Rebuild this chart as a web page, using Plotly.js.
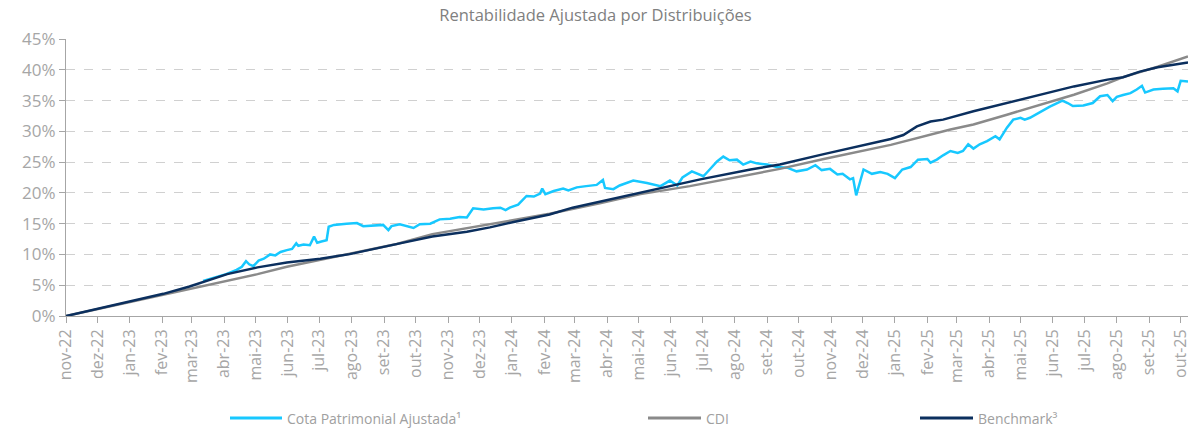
<!DOCTYPE html>
<html>
<head>
<meta charset="utf-8">
<script src="https://cdn.plot.ly/plotly-3.0.1.min.js"></script>
<style>html,body{margin:0;padding:0;background:#fff;}#chart{width:1191px;height:430px;}</style>
</head>
<body>
<div id="chart"></div>
<script>
// ---- Data ----
const cotaDates = ["2023-03-12","2023-03-25","2023-04-03","2023-04-13","2023-04-18","2023-04-22","2023-04-25","2023-04-29","2023-05-04","2023-05-09","2023-05-15","2023-05-20","2023-05-25","2023-05-31","2023-06-05","2023-06-09","2023-06-11","2023-06-16","2023-06-22","2023-06-26","2023-06-29","2023-07-03","2023-07-08","2023-07-10","2023-07-15","2023-07-27","2023-08-06","2023-08-12","2023-08-25","2023-08-31","2023-09-05","2023-09-08","2023-09-16","2023-09-29","2023-10-05","2023-10-15","2023-10-24","2023-11-03","2023-11-12","2023-11-19","2023-11-25","2023-12-05","2023-12-14","2023-12-21","2023-12-26","2023-12-30","2024-01-07","2024-01-15","2024-01-22","2024-01-28","2024-01-30","2024-02-02","2024-02-10","2024-02-19","2024-02-24","2024-03-03","2024-03-12","2024-03-22","2024-03-28","2024-03-30","2024-04-07","2024-04-13","2024-04-26","2024-05-03","2024-05-09","2024-05-22","2024-05-31","2024-06-07","2024-06-12","2024-06-21","2024-06-29","2024-07-02","2024-07-08","2024-07-15","2024-07-21","2024-07-27","2024-08-03","2024-08-09","2024-08-16","2024-08-22","2024-09-01","2024-09-10","2024-09-20","2024-09-29","2024-10-09","2024-10-17","2024-10-23","2024-10-31","2024-11-07","2024-11-12","2024-11-19","2024-11-22","2024-11-25","2024-11-29","2024-12-02","2024-12-10","2024-12-18","2024-12-25","2025-01-01","2025-01-08","2025-01-16","2025-01-23","2025-02-01","2025-02-04","2025-02-10","2025-02-16","2025-02-23","2025-03-02","2025-03-07","2025-03-12","2025-03-17","2025-03-23","2025-03-30","2025-04-07","2025-04-11","2025-04-18","2025-04-24","2025-05-01","2025-05-05","2025-05-10","2025-05-17","2025-05-23","2025-05-29","2025-06-05","2025-06-10","2025-06-15","2025-06-20","2025-06-30","2025-07-09","2025-07-16","2025-07-23","2025-07-28","2025-08-01","2025-08-07","2025-08-14","2025-08-20","2025-08-25","2025-08-28","2025-09-05","2025-09-14","2025-09-24","2025-09-28","2025-10-01","2025-10-08"];
const cotaValues = [5.7,6.35,6.8,7.5,8.0,8.9,8.4,8.1,9.0,9.3,10.0,9.85,10.4,10.7,10.9,11.8,11.4,11.6,11.5,12.9,11.9,12.1,12.3,14.5,14.8,15.0,15.1,14.6,14.7,14.8,13.95,14.6,14.9,14.3,14.9,15.0,15.7,15.8,16.1,16.0,17.5,17.3,17.5,17.6,17.2,17.6,18.1,19.5,19.4,19.9,20.7,19.8,20.3,20.7,20.4,20.9,21.1,21.3,22.1,20.8,20.6,21.2,22.0,21.8,21.6,21.1,22.0,21.2,22.5,23.5,23.0,22.7,23.8,25.1,25.9,25.3,25.4,24.6,25.1,24.8,24.6,24.2,24.1,23.5,23.8,24.5,23.7,23.9,23.0,23.1,22.2,22.4,19.6,22.2,23.8,23.1,23.4,23.1,22.4,23.8,24.2,25.4,25.5,24.9,25.4,26.1,26.8,26.5,26.8,27.9,27.2,27.9,28.4,29.2,28.7,30.6,31.9,32.2,31.9,32.2,32.9,33.4,34.0,34.6,35.0,34.6,34.1,34.2,34.6,35.7,35.9,34.9,35.6,35.9,36.2,36.8,37.4,36.3,36.8,36.9,37.0,36.5,38.2,38.1];

const cdiDates = ["2022-11-01","2022-12-03","2023-01-04","2023-02-02","2023-02-27","2023-04-04","2023-05-03","2023-05-31","2023-07-02","2023-07-30","2023-09-13","2023-10-17","2023-12-11","2024-02-06","2024-03-25","2024-05-03","2024-06-19","2024-08-22","2024-09-13","2024-10-25","2024-12-28","2025-02-23","2025-03-17","2025-04-18","2025-05-20","2025-06-21","2025-07-23","2025-08-07","2025-09-09","2025-10-08"];
const cdiValues = [0,1.2,2.4,3.4,4.4,5.75,6.8,8.0,9.1,10.05,11.7,13.3,14.9,16.6,18.3,19.8,21.1,23.1,23.9,25.5,27.8,30.3,31.1,32.7,34.3,35.95,37.8,38.8,40.5,42.15];

const benchDates = ["2022-11-01","2022-12-03","2023-01-04","2023-02-02","2023-02-27","2023-04-04","2023-05-03","2023-05-31","2023-07-02","2023-07-30","2023-09-16","2023-10-17","2023-11-19","2023-12-11","2024-01-06","2024-02-06","2024-02-28","2024-03-25","2024-05-03","2024-06-03","2024-06-29","2024-08-16","2024-09-13","2024-10-25","2024-12-06","2024-12-28","2025-01-09","2025-01-22","2025-02-04","2025-02-16","2025-03-17","2025-04-18","2025-05-20","2025-06-21","2025-07-23","2025-08-07","2025-08-23","2025-09-09","2025-10-08"];
const benchValues = [0,1.2,2.5,3.6,4.8,6.8,7.9,8.7,9.3,10.05,11.8,12.9,13.7,14.4,15.4,16.5,17.6,18.6,20.1,21.3,22.2,23.8,24.6,26.3,27.9,28.75,29.4,30.8,31.6,31.9,33.25,34.6,35.95,37.3,38.4,38.8,39.7,40.4,41.2];

const seriesNames = ["Cota Patrimonial Ajustada¹", "CDI", "Benchmark³"];
const seriesColors = ["#17C8FF", "#8A8A8A", "#0B2F5E"];

const monthTickVals = ["2022-11-01","2022-12-01","2023-01-01","2023-02-01","2023-03-01","2023-04-01","2023-05-01","2023-06-01","2023-07-01","2023-08-01","2023-09-01","2023-10-01","2023-11-01","2023-12-01","2024-01-01","2024-02-01","2024-03-01","2024-04-01","2024-05-01","2024-06-01","2024-07-01","2024-08-01","2024-09-01","2024-10-01","2024-11-01","2024-12-01","2025-01-01","2025-02-01","2025-03-01","2025-04-01","2025-05-01","2025-06-01","2025-07-01","2025-08-01","2025-09-01","2025-10-01"];
const monthTickText = ["nov-22","dez-22","jan-23","fev-23","mar-23","abr-23","mai-23","jun-23","jul-23","ago-23","set-23","out-23","nov-23","dez-23","jan-24","fev-24","mar-24","abr-24","mai-24","jun-24","jul-24","ago-24","set-24","out-24","nov-24","dez-24","jan-25","fev-25","mar-25","abr-25","mai-25","jun-25","jul-25","ago-25","set-25","out-25"];
const yTickVals = [0,5,10,15,20,25,30,35,40,45];
const yTickText = ["0%","5%","10%","15%","20%","25%","30%","35%","40%","45%"];

// ---- Layout constants (pixels) ----
const W = 1191, H = 430;
const M = {l: 66, r: 3, t: 39, b: 114};
const plotW = W - M.l - M.r, plotH = H - M.t - M.b;
const px2x = px => (px - M.l) / plotW;          // page px -> paper x
const py2y = py => (H - M.b - py) / plotH;      // page px -> paper y

// legend placement: start of line, text start, row centre (page px)
const legendSlots = [{x0: 230, x1: 282, tx: 285}, {x0: 648, x1: 701, tx: 704}, {x0: 920, x1: 973, tx: 976}];
const legendRowY = 418;

// ---- Traces ----
const traces = seriesNames.map((nm, i) => ({
  x: [cotaDates, cdiDates, benchDates][i],
  y: [cotaValues, cdiValues, benchValues][i],
  name: nm, type: "scatter", mode: "lines",
  line: {color: seriesColors[i], width: 2.5}
}));

const tickGray = "#A6A6A6";
const shapes = legendSlots.map((s, i) => ({
  type: "line", xref: "paper", yref: "paper",
  x0: px2x(s.x0), x1: px2x(s.x1), y0: py2y(legendRowY), y1: py2y(legendRowY),
  line: {color: seriesColors[i], width: 3}
}));
const annotations = legendSlots.map((s, i) => ({
  xref: "paper", yref: "paper", x: px2x(s.tx), y: py2y(legendRowY),
  xanchor: "left", yanchor: "middle", showarrow: false, text: seriesNames[i],
  font: {family: "Open Sans, sans-serif", size: 14, color: "#A0A0A0"}
}));

const layout = {
  width: W, height: H,
  margin: {l: M.l, r: M.r, t: M.t, b: M.b, pad: 0},
  paper_bgcolor: "#fff", plot_bgcolor: "#fff",
  showlegend: false,
  title: {text: "Rentabilidade Ajustada por Distribuições", x: 0.5, xanchor: "center",
          y: 0.965, yanchor: "middle",
          font: {family: "Open Sans, sans-serif", size: 16.5, color: "#808080"}},
  xaxis: {type: "date", range: ["2022-11-01", "2025-10-08"],
          tickmode: "array", tickvals: monthTickVals, ticktext: monthTickText,
          tickangle: -90, tickfont: {family: "Open Sans, sans-serif", size: 16, color: tickGray},
          showgrid: false, zeroline: false, showline: true, linecolor: tickGray, linewidth: 1,
          ticks: "outside", ticklen: 6, tickcolor: tickGray, tickwidth: 1},
  yaxis: {range: [0, 45], tickmode: "array", tickvals: yTickVals, ticktext: yTickText,
          tickfont: {family: "Open Sans, sans-serif", size: 17, color: tickGray},
          showgrid: true, gridcolor: "#D0D0D0", griddash: "dash", gridwidth: 1,
          zeroline: false, showline: true, linecolor: tickGray, linewidth: 1,
          ticks: "outside", ticklen: 6, tickcolor: tickGray, tickwidth: 1},
  shapes: shapes,
  annotations: annotations
};

Plotly.newPlot("chart", traces, layout, {staticPlot: true, displayModeBar: false});
</script>
</body>
</html>
